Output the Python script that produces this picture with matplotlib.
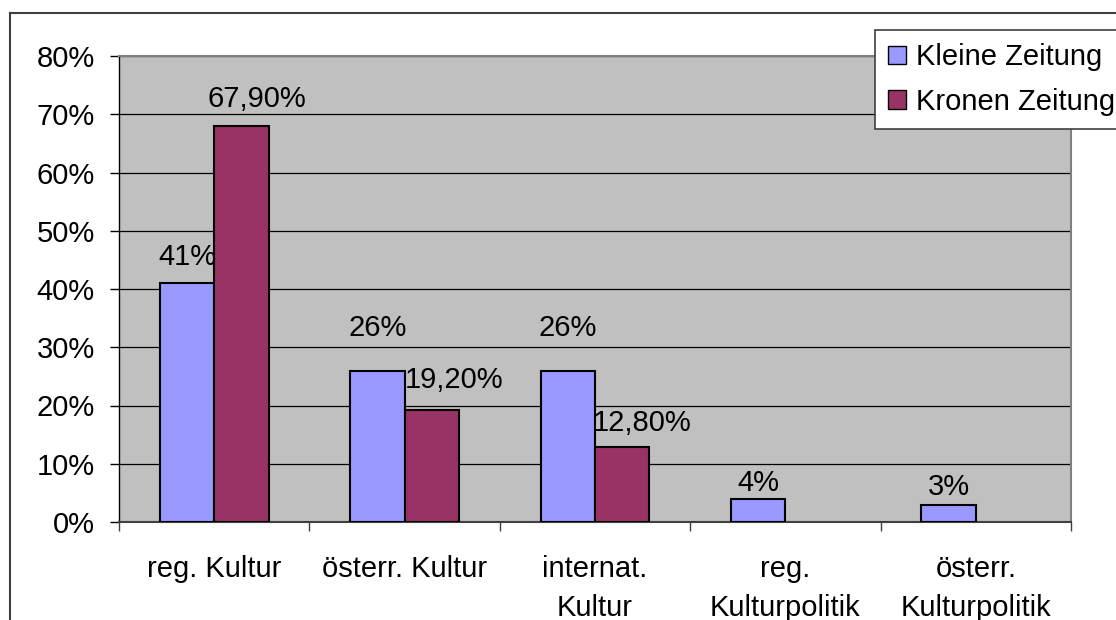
"""Kleine Zeitung vs. Kronen Zeitung — share of culture topics (Excel-style bar chart)."""
import matplotlib
matplotlib.use("Agg")
import matplotlib.pyplot as plt
import numpy as np
from matplotlib.lines import Line2D
from matplotlib.patches import Patch

categories = ["reg. Kultur", "österr. Kultur", "internat.\nKultur",
              "reg.\nKulturpolitik", "österr.\nKulturpolitik"]
kleine = [41, 26, 26, 4, 3]
kronen = [67.9, 19.2, 12.8]
kleine_labels = ["41%", "26%", "26%", "4%", "3%"]
kronen_labels = ["67,90%", "19,20%", "12,80%"]
yticks = [0, 10, 20, 30, 40, 50, 60, 70, 80]

# label offsets (px) as Excel placed them
kleine_off = [(0, 26), (0, 43), (0, 43), (0, 16), (0, 18)]
kronen_off = [(15, 27), (22, 30), (20, 24)]

BLUE = "#9999FF"
RED = "#993366"
GRAY = "#C0C0C0"
FONT = "Liberation Sans"
FS = 21

plt.rcParams["font.family"] = [FONT, "DejaVu Sans"]

W, H = 1116, 620
fig = plt.figure(figsize=(W / 100, H / 100), dpi=100)
ax = fig.add_axes([119 / W, (H - 522) / H, (1071 - 119) / W, (522 - 56) / H])
ax.set_facecolor(GRAY)

x = np.arange(len(categories))
bw = 0.286
kb = ax.bar(x - bw / 2, kleine, bw, color=BLUE, edgecolor="black", linewidth=1.5, zorder=3)
kr = ax.bar(x[:len(kronen)] + bw / 2, kronen, bw, color=RED, edgecolor="black",
            linewidth=1.5, zorder=3)

px = 0.72  # points per pixel at dpi 100
for rect, lab, (dx, dy) in zip(kb, kleine_labels, kleine_off):
    ax.annotate(lab, (rect.get_x() + rect.get_width() / 2, rect.get_height()),
                xytext=(dx * px, dy * px), textcoords="offset points",
                ha="center", va="center", fontsize=FS, zorder=5)
for rect, lab, (dx, dy) in zip(kr, kronen_labels, kronen_off):
    ax.annotate(lab, (rect.get_x() + rect.get_width() / 2, rect.get_height()),
                xytext=(dx * px, dy * px), textcoords="offset points",
                ha="center", va="center", fontsize=FS, zorder=5)

ax.set_xlim(-0.5, len(categories) - 0.5)
ax.set_ylim(0, 80)
ax.set_yticks(yticks)
ax.set_yticklabels([f"{t}%" for t in yticks])
ax.yaxis.grid(True, color="black", linewidth=0.9, zorder=1)
ax.set_axisbelow(True)

ax.set_xticks(x)
ax.set_xticklabels(categories, linespacing=1.5)
ax.set_xticks(np.arange(-0.5, len(categories)), minor=True)
ax.tick_params(axis="x", which="major", length=0, pad=23.5, labelsize=FS)
ax.tick_params(axis="x", which="minor", length=6.5, width=1, direction="out",
               color="#404040")
ax.tick_params(axis="y", length=6.5, width=1, direction="out", pad=11, labelsize=FS)

ax.spines["left"].set_color("black")
ax.spines["left"].set_linewidth(1)
ax.spines["bottom"].set_color("#404040")
ax.spines["bottom"].set_linewidth(1.5)
for s in ("top", "right"):
    ax.spines[s].set_color("#808080")
    ax.spines[s].set_linewidth(1.5)

handles = [Patch(facecolor=BLUE, edgecolor="black", linewidth=1),
           Patch(facecolor=RED, edgecolor="black", linewidth=1)]
leg = fig.legend(handles, ["Kleine Zeitung", "Kronen Zeitung"],
                 loc="upper left", bbox_to_anchor=(875 / W, 1 - 30 / H),
                 fontsize=FS, frameon=True, fancybox=False, shadow=False,
                 framealpha=1, facecolor="white",
                 handlelength=0.6, handleheight=0.6, handletextpad=0.35,
                 labelspacing=0.57, borderpad=0.45, borderaxespad=0)
leg.get_frame().set_edgecolor("#404040")
leg.get_frame().set_linewidth(1.2)

# outer chart-area frame (right and bottom edges fall outside the picture)
fig.add_artist(Line2D([10 / W, 1.0], [1 - 13 / H, 1 - 13 / H], color="#404040",
                      linewidth=1.5, transform=fig.transFigure))
fig.add_artist(Line2D([10 / W, 10 / W], [1 - 13 / H, 0.0], color="#404040",
                      linewidth=1.5, transform=fig.transFigure))

fig.savefig("out.png", dpi=100)
